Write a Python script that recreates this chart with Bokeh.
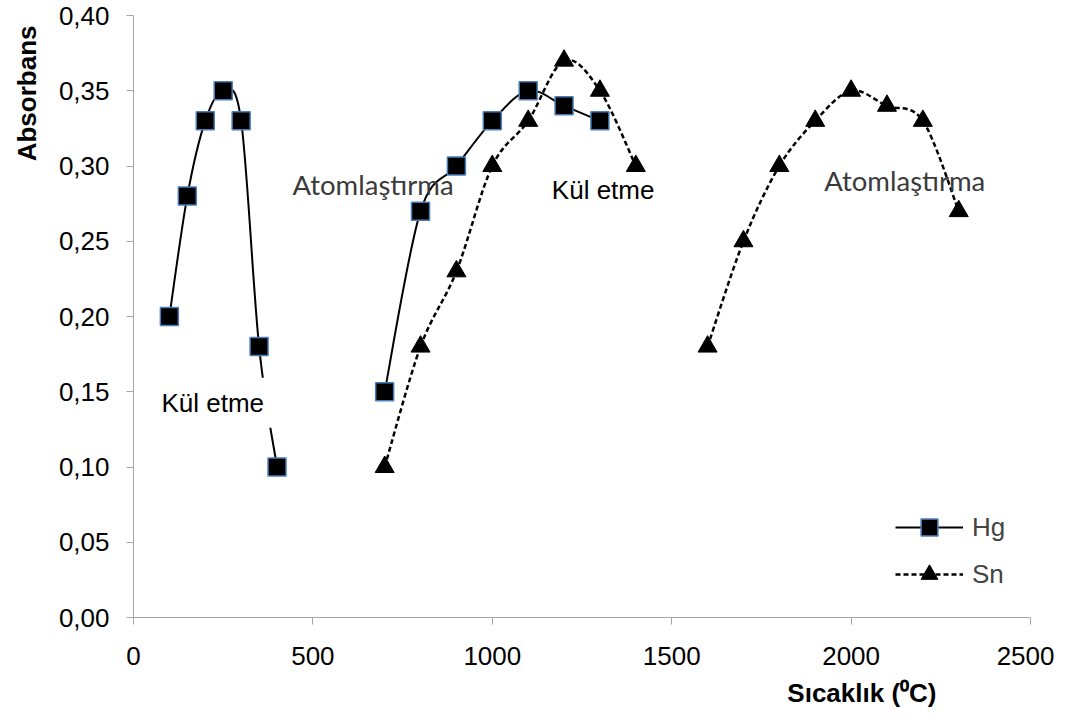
import math
from bokeh.plotting import figure
from bokeh.models import (Range1d, FixedTicker, CustomJSTickFormatter, Label,
                          Legend, LegendItem, ColumnDataSource, Title)
from bokeh.embed import file_html
from bokeh.resources import INLINE

# ---- data ----
hg_ash_x = [100, 150, 200, 250, 300, 350, 400]
hg_ash_y = [0.20, 0.28, 0.33, 0.35, 0.33, 0.18, 0.10]
hg_atom_x = [700, 800, 900, 1000, 1100, 1200, 1300]
hg_atom_y = [0.15, 0.27, 0.30, 0.33, 0.35, 0.34, 0.33]
sn_ash_x = [700, 800, 900, 1000, 1100, 1200, 1300, 1400]
sn_ash_y = [0.10, 0.18, 0.23, 0.30, 0.33, 0.37, 0.35, 0.30]
sn_atom_x = [1600, 1700, 1800, 1900, 2000, 2100, 2200, 2300]
sn_atom_y = [0.18, 0.25, 0.30, 0.33, 0.35, 0.34, 0.33, 0.27]

x_ticks = [0, 500, 1000, 1500, 2000, 2500]
y_ticks = [0.0, 0.05, 0.10, 0.15, 0.20, 0.25, 0.30, 0.35, 0.40]

series_names = ["Hg", "Sn"]
label_ash = "Kül etme"
label_atom = "Atomlaştırma"
x_title = "Sıcaklık (⁰C)"
y_title = "Absorbans"


def smooth(xs, ys):
    """Catmull-Rom style smoothing (like Excel's smoothed line) as cubic Beziers."""
    n = len(xs)
    d = dict(x0=[], y0=[], x1=[], y1=[], cx0=[], cy0=[], cx1=[], cy1=[])
    for i in range(n - 1):
        a = i - 1 if i > 0 else i
        b = i + 2 if i + 2 < n else i + 1
        d["x0"].append(xs[i]); d["y0"].append(ys[i])
        d["x1"].append(xs[i + 1]); d["y1"].append(ys[i + 1])
        d["cx0"].append(xs[i] + (xs[i + 1] - xs[a]) / 6.0)
        d["cy0"].append(ys[i] + (ys[i + 1] - ys[a]) / 6.0)
        d["cx1"].append(xs[i + 1] - (xs[b] - xs[i]) / 6.0)
        d["cy1"].append(ys[i + 1] - (ys[b] - ys[i]) / 6.0)
    return ColumnDataSource(d)


FONT = "Liberation Sans"

p = figure(width=1054, height=716, output_backend="svg", toolbar_location=None,
           x_range=Range1d(0, 2500), y_range=Range1d(0, 0.40),
           min_border_left=133, min_border_right=24, min_border_top=15,
           min_border_bottom=98)
p.outline_line_color = None
p.grid.visible = False
p.background_fill_color = "white"

AX = "#a6a6a6"
for ax in (p.xaxis[0], p.yaxis[0]):
    ax.axis_line_color = AX
    ax.major_tick_line_color = AX
    ax.minor_tick_line_color = None
    ax.major_tick_out = 7
    ax.major_tick_in = 0
    ax.major_label_text_font = FONT
    ax.major_label_text_font_size = "26px"
    ax.major_label_text_color = "#000000"

p.xaxis[0].ticker = FixedTicker(ticks=x_ticks)
p.yaxis[0].ticker = FixedTicker(ticks=y_ticks)
p.yaxis[0].formatter = CustomJSTickFormatter(code="return tick.toFixed(2).replace('.', ',');")
p.xaxis[0].major_label_standoff = 22
p.yaxis[0].major_label_standoff = 17

# lines
hg_style = dict(line_color="black", line_width=2)
sn_style = dict(line_color="black", line_width=2.5, line_dash="5 3")
hg_l1 = p.bezier("x0", "y0", "x1", "y1", "cx0", "cy0", "cx1", "cy1", source=smooth(hg_ash_x, hg_ash_y), **hg_style)
hg_l2 = p.bezier("x0", "y0", "x1", "y1", "cx0", "cy0", "cx1", "cy1", source=smooth(hg_atom_x, hg_atom_y), **hg_style)
sn_l1 = p.bezier("x0", "y0", "x1", "y1", "cx0", "cy0", "cx1", "cy1", source=smooth(sn_ash_x, sn_ash_y), **sn_style)
sn_l2 = p.bezier("x0", "y0", "x1", "y1", "cx0", "cy0", "cx1", "cy1", source=smooth(sn_atom_x, sn_atom_y), **sn_style)

# annotations (text boxes)
lab_kw = dict(x_units="data", y_units="data")
kul1 = Label(x=50, y=0.1261, text=label_ash, text_font=FONT, text_color="black",
             text_font_size="26px", background_fill_color="white", padding=10, **lab_kw)
kul2 = Label(x=1166, y=0.2743, text=label_ash, text_font=FONT, text_color="black",
             text_font_size="26px", **lab_kw)
atom1 = Label(x=443, y=0.2766, text=label_atom, text_font="Lato", text_color="#3a3a3a",
              text_font_size="27.5px", **lab_kw)
atom2 = Label(x=1925, y=0.2793, text=label_atom, text_font="Lato", text_color="#3a3a3a",
              text_font_size="27.5px", **lab_kw)
for lb in (kul1, kul2, atom1, atom2):
    p.add_layout(lb)

# markers
hg_m_style = dict(marker="square", size=18, fill_color="black", line_color="#4a7ebb", line_width=1.5)
sn_m_style = dict(marker="triangle", size=19, fill_color="black", line_color="black", line_width=1)
hg_m1 = p.scatter(hg_ash_x, hg_ash_y, **hg_m_style)
hg_m2 = p.scatter(hg_atom_x, hg_atom_y, **hg_m_style)
sn_m1 = p.scatter(sn_ash_x, sn_ash_y, **sn_m_style)
sn_m2 = p.scatter(sn_atom_x, sn_atom_y, **sn_m_style)

# axis titles (placed like the reference: right part of x axis, top of y axis)
p.add_layout(Title(text=x_title, align="right", offset=94, standoff=17, vertical_align="bottom",
                   text_color="black", text_font=FONT, text_font_size="26px",
                   text_font_style="bold"), "below")
p.add_layout(Title(text=y_title, align="right", offset=10, standoff=23, vertical_align="top",
                   text_color="black", text_font=FONT, text_font_size="26px",
                   text_font_style="bold"), "left")

legend = Legend(items=[LegendItem(label=series_names[0], renderers=[hg_l1, hg_m1]),
                       LegendItem(label=series_names[1], renderers=[sn_l1, sn_m1])],
                location=(762, 22), glyph_width=68, glyph_height=42, label_height=42,
                spacing=5, padding=0, margin=0, label_standoff=9,
                label_text_font=FONT, label_text_font_size="26px",
                border_line_color=None, background_fill_alpha=0)
p.add_layout(legend)

open("out.html", "w").write(file_html(p, INLINE))
